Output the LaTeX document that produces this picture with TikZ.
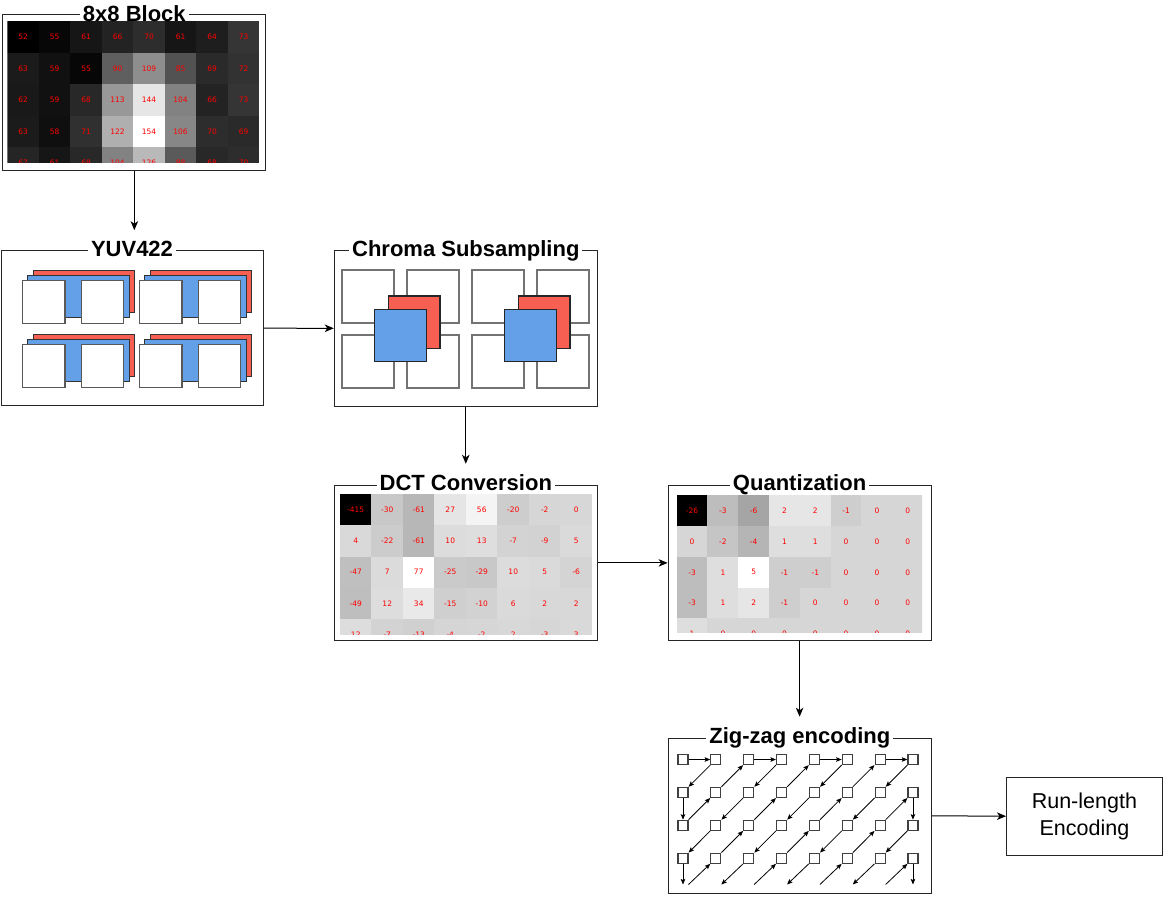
\documentclass[tikz,border=0pt]{standalone}
\usepackage{fontspec}
\setmainfont{Liberation Sans}
\newfontfamily\cellfont{DejaVu Sans}
\usetikzlibrary{arrows.meta,calc}
\definecolor{chR}{HTML}{F65F52}
\definecolor{chB}{HTML}{63A0E8}
\tikzset{
  frame/.style={draw=black!85, line width=1pt, minimum width=263pt, minimum height=155.5pt, inner sep=0pt},
  ttl/.style={font=\fontsize{22}{26}\selectfont\bfseries, fill=white, inner xsep=3pt, inner ysep=0pt, anchor=base},
  cell/.style={inner sep=0pt, text=red, font=\cellfont\fontsize{7.5}{9}\selectfont},
  conn/.style={draw=black, line width=1pt, -{Stealth[length=9pt,width=7.5pt,inset=2.5pt]}},
  zarr/.style={draw=black, line width=0.8pt, -{Stealth[length=5.5pt,width=4.5pt,inset=1pt]}},
  zsq/.style={draw=black!75, line width=1.2pt, fill=white, minimum size=10pt, inner sep=0pt},
  yR/.style={fill=chR, draw=black!80, line width=0.8pt, minimum width=101pt, minimum height=42.7pt, inner sep=0pt},
  yB/.style={fill=chB, draw=black!80, line width=0.8pt, minimum width=101.6pt, minimum height=42.3pt, inner sep=0pt},
  yW/.style={fill=white, draw=black!65, line width=1.2pt, minimum width=42.7pt, minimum height=42.6pt, inner sep=0pt},
  cW/.style={draw=black!55, line width=2pt, minimum size=52.6pt, inner sep=0pt},
  cR/.style={fill=chR, draw=black!85, line width=1.3pt, minimum width=51.7pt, minimum height=52.3pt, inner sep=0pt},
  cB/.style={fill=chB, draw=black!85, line width=1.3pt, minimum size=52.4pt, inner sep=0pt},
  rlebox/.style={draw=black!85, line width=1pt, minimum width=155.8pt, minimum height=77.7pt, inner sep=0pt, align=center, font=\fontsize{21.5}{26.5}\selectfont}
}
\begin{document}
\begin{tikzpicture}[x=1pt,y=-1pt]
\useasboundingbox (0,0) rectangle (1163,918);

% ---------- frames ----------
\node[frame] (b8) at (134.35,92.25) {};
\node[frame, minimum width=262pt] (yuv) at (132,328.2) {};
\node[frame] (ch) at (465.8,328.3) {};
\node[frame] (dct) at (465.8,562.9) {};
\node[frame] (qt) at (799.6,562.9) {};
\node[frame] (zz) at (799.8,815.8) {};
\node[rlebox] (rle) at (1084.4,816.2) {Run-length\\Encoding};

% ---------- 8x8 block ----------
\begin{scope}
\clip (7.3,21.5) rectangle (259.3,162.3);
\foreach \row [count=\ri from 0] in {{52,55,61,66,70,61,64,73},{63,59,55,90,109,85,69,72},{62,59,68,113,144,104,66,73},{63,58,71,122,154,106,70,69},{67,61,68,104,126,88,68,70}} {
  \foreach \v [count=\ci from 0] in \row {
    \pgfmathsetmacro\p{(\v-52)/1.02}
    \node[cell, minimum width=31.6pt, minimum height=31.5pt, fill=white!\p!black] (ma-\ri-\ci) at (7.3+31.5*\ci+15.75, 21.5+31.4*\ri+15.7) {\v};
  }
}
\end{scope}

% ---------- DCT ----------
\begin{scope}
\clip (340,494) rectangle (592,634);
\foreach \row [count=\ri from 0] in {{-415,-30,-61,27,56,-20,-2,0},{4,-22,-61,10,13,-7,-9,5},{-47,7,77,-25,-29,10,5,-6},{-49,12,34,-15,-10,6,2,2},{12,-7,-13,-4,-2,2,-3,3}} {
  \foreach \v [count=\ci from 0] in \row {
    \pgfmathsetmacro\p{(\v+415)/4.92}
    \node[cell, minimum width=31.6pt, minimum height=31.4pt, fill=white!\p!black] (mb-\ri-\ci) at (340+31.5*\ci+15.75, 494+31.3*\ri+15.65) {\v};
  }
}
\end{scope}

% ---------- Quantization ----------
\begin{scope}
\clip (676.7,495.3) rectangle (922,632.7);
\foreach \row [count=\ri from 0] in {{-26,-3,-6,2,2,-1,0,0},{0,-2,-4,1,1,0,0,0},{-3,1,5,-1,-1,0,0,0},{-3,1,2,-1,0,0,0,0},{1,0,0,0,0,0,0,0}} {
  \foreach \v [count=\ci from 0] in \row {
    \pgfmathsetmacro\p{(\v+26)/0.31}
    \node[cell, minimum width=30.9pt, minimum height=30.9pt, fill=white!\p!black] (mc-\ri-\ci) at (676.7+30.8*\ci+15.4, 495.3+30.8*\ri+15.4) {\v};
  }
}
\end{scope}

% ---------- YUV422 ----------
\foreach \gx/\gy [count=\g] in {0/0,117/0,0/64,117/64} {
  \node[yR] (yr\g) at (83.8+\gx,291.35+\gy) {};
  \node[yB] (yb\g) at (78.5+\gx,296.15+\gy) {};
  \node[yW] (yw\g a) at (43.65+\gx,302+\gy) {};
  \node[yW] (yw\g b) at (102.5+\gx,302+\gy) {};
}

% ---------- Chroma subsampling ----------
\foreach \gx [count=\g] in {0,130} {
  \node[cW] (cw\g a) at (368+\gx,296.3) {};
  \node[cW] (cw\g b) at (433+\gx,296.3) {};
  \node[cW] (cw\g c) at (368+\gx,361.3) {};
  \node[cW] (cw\g d) at (433+\gx,361.3) {};
  \node[cR] (cr\g) at (414.15+\gx,322.15) {};
  \node[cB] (cb\g) at (400.5+\gx,335.5) {};
}

% ---------- Zig-zag ----------
\foreach \ri in {0,...,3} {
  \foreach \ci in {0,...,7} {
    \node[zsq] (z\ri\ci) at (683+32.85*\ci,759.5+32.9*\ri) {};
  }
}
\foreach \ci in {0,...,7} {
  \coordinate (zne\ci) at (688.5+32.85*\ci,884.5);
  \coordinate (zn\ci) at (683+32.85*\ci,884.5);
}
\foreach \ci in {0,2,4,6} {
  \pgfmathtruncatemacro\cn{\ci+1}
  \draw[zarr] (z0\ci.east) -- (z0\cn.west);
}
\foreach \ri in {0,1,2} {
  \foreach \ci in {0,...,6} {
    \pgfmathtruncatemacro\rb{\ri+1}
    \pgfmathtruncatemacro\cn{\ci+1}
    \pgfmathtruncatemacro\odd{mod(\ri+\ci+1,2)}
    \ifnum\odd=1
      \draw[zarr] (z\ri\cn.south west) -- (z\rb\ci.north east);
    \else
      \draw[zarr] (z\rb\ci.north east) -- (z\ri\cn.south west);
    \fi
  }
}
\foreach \ci in {0,...,6} {
  \pgfmathtruncatemacro\cn{\ci+1}
  \pgfmathtruncatemacro\odd{mod(\ci+4,2)}
  \ifnum\odd=1
    \draw[zarr] (z3\cn.south west) -- (zne\ci);
  \else
    \draw[zarr] (zne\ci) -- (z3\cn.south west);
  \fi
}
\draw[zarr] (z10.south) -- (z20.north);
\draw[zarr] (z30.south) -- (zn0);
\draw[zarr] (z17.south) -- (z27.north);
\draw[zarr] (z37.south) -- (zn7);

% ---------- titles ----------
\node[ttl] (t8) at ($(b8.north)+(0,7)$) {8x8 Block};
\node[ttl] (tyuv) at ($(yuv.north)+(0,6.8)$) {YUV422};
\node[ttl] (tch) at ($(ch.north)+(0,6.8)$) {Chroma Subsampling};
\node[ttl] (tdct) at ($(dct.north)+(0,6.3)$) {DCT Conversion};
\node[ttl] (tq) at ($(qt.north)+(0,6.3)$) {Quantization};
\node[ttl] (tzz) at ($(zz.north)+(0,6.3)$) {Zig-zag encoding};

% ---------- connectors ----------
\draw[conn, shorten >=11pt] (b8.south) -- (b8.south |- tyuv.north);
\draw[conn] (yuv.east) -- (ch.west);
\draw[conn, shorten >=11pt] (ch.south) -- (ch.south |- tdct.north);
\draw[conn] (dct.east) -- (qt.west);
\draw[conn, shorten >=11pt] (qt.south) -- (qt.south |- tzz.north);
\draw[conn] (zz.east) -- (rle.west);
\end{tikzpicture}
\end{document}
